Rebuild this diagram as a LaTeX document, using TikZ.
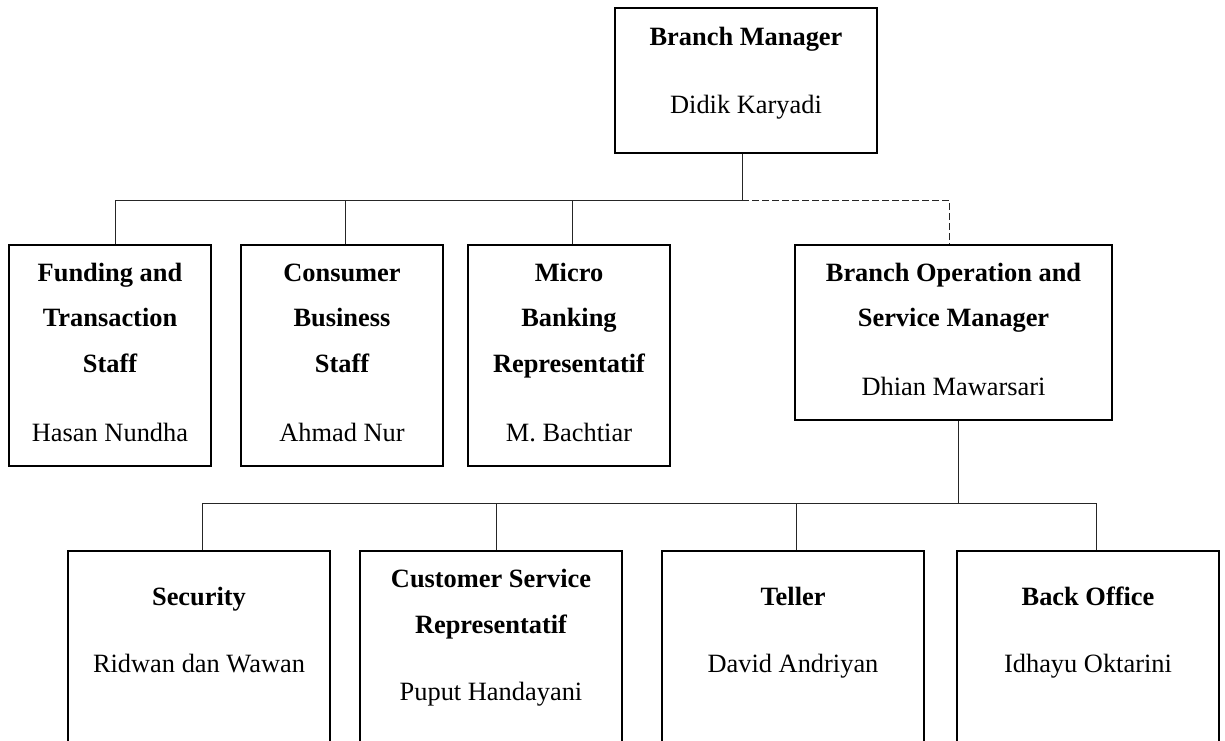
\documentclass[tikz,border=0pt]{standalone}
\usepackage{fontspec}
\setmainfont{Liberation Serif}
\begin{document}
\begin{tikzpicture}[x=0.5pt,y=-0.5pt,
  box/.style={draw=black,line width=0.9pt,rectangle,inner sep=0pt,fill=white},
  title/.style={inner sep=0pt,anchor=base,font=\fontsize{13.2}{15}\selectfont\bfseries},
  person/.style={inner sep=0pt,anchor=base,font=\fontsize{13.2}{15}\selectfont},
  link/.style={draw=black!85,line width=0.5pt},
  dottedlink/.style={link,dash pattern=on 3.3pt off 1.7pt}]
\useasboundingbox (0,0) rectangle (1225,740);
\clip (0,0) rectangle (1225,740);
\fill[white] (0,0) rectangle (1225,740);

% ---- top level
\node[box,minimum width=131pt,minimum height=72.5pt] (bm) at (746,80.5) {};
\node[title]  (bm-t) at (746,45)  {Branch Manager};
\node[person] (bm-n) at (746,113) {Didik Karyadi};

% ---- second level
\node[box,minimum width=101pt,minimum height=110.5pt] (fund)  at (110,355.5) {};
\node[box,minimum width=101pt,minimum height=110.5pt] (cons)  at (342,355.5) {};
\node[box,minimum width=101pt,minimum height=110.5pt] (micro) at (569,355.5) {};
\node[box,minimum width=158.5pt,minimum height=87.5pt] (bosm) at (953.5,332.5) {};

\node[title]  (fund-t1) at (110,281) {Funding and};
\node[title]  (fund-t2) at (110,326) {Transaction};
\node[title]  (fund-t3) at (110,372) {Staff};
\node[person] (fund-n)  at (110,441) {Hasan Nundha};

\node[title]  (cons-t1) at (342,281) {Consumer};
\node[title]  (cons-t2) at (342,326) {Business};
\node[title]  (cons-t3) at (342,372) {Staff};
\node[person] (cons-n)  at (342,441) {Ahmad Nur};

\node[title]  (micro-t1) at (569,281) {Micro};
\node[title]  (micro-t2) at (569,326) {Banking};
\node[title]  (micro-t3) at (569,372) {Representatif};
\node[person] (micro-n)  at (569,441) {M. Bachtiar};

\node[title]  (bosm-t1) at (953.5,281) {Branch Operation and};
\node[title]  (bosm-t2) at (953.5,326) {Service Manager};
\node[person] (bosm-n)  at (953.5,395) {Dhian Mawarsari};

% ---- third level (boxes run past the lower edge)
\node[box,minimum width=131pt,minimum height=124.5pt] (sec) at (199,675.5)  {};
\node[box,minimum width=131pt,minimum height=124.5pt] (cs)  at (491,675.5)  {};
\node[box,minimum width=131pt,minimum height=124.5pt] (tel) at (793,675.5)  {};
\node[box,minimum width=131pt,minimum height=124.5pt] (bo)  at (1088,675.5) {};

\node[title]  (sec-t) at (199,605) {Security};
\node[person] (sec-n) at (199,672) {Ridwan dan Wawan};

\node[title]  (cs-t1) at (491,587) {Customer Service};
\node[title]  (cs-t2) at (491,633) {Representatif};
\node[person] (cs-n)  at (491,700) {Puput Handayani};

\node[title]  (tel-t) at (793,605) {Teller};
\node[person] (tel-n) at (793,672) {David Andriyan};

\node[title]  (bo-t) at (1088,605) {Back Office};
\node[person] (bo-n) at (1088,672) {Idhayu Oktarini};

% ---- connectors
\coordinate (bus1) at (742,200);
\draw[link] (bus1 |- bm.south) -- (bus1);
\draw[link] (bus1) -| ([xshift=2.5pt]fund.north);
\draw[link] (bus1) -| ([xshift=1.5pt]cons.north);
\draw[link] (bus1) -| ([xshift=1.5pt]micro.north);
\draw[dottedlink] (bus1) -| ([xshift=-2.25pt]bosm.north);

\coordinate (bus2) at (958,503);
\draw[link] (bus2 |- bosm.south) -- (bus2);
\draw[link] (bus2) -| ([xshift=1.5pt]sec.north);
\draw[link] (bus2) -| ([xshift=2.5pt]cs.north);
\draw[link] (bus2) -| ([xshift=1.5pt]tel.north);
\draw[link] (bus2) -| ([xshift=4pt]bo.north);
\end{tikzpicture}
\end{document}
